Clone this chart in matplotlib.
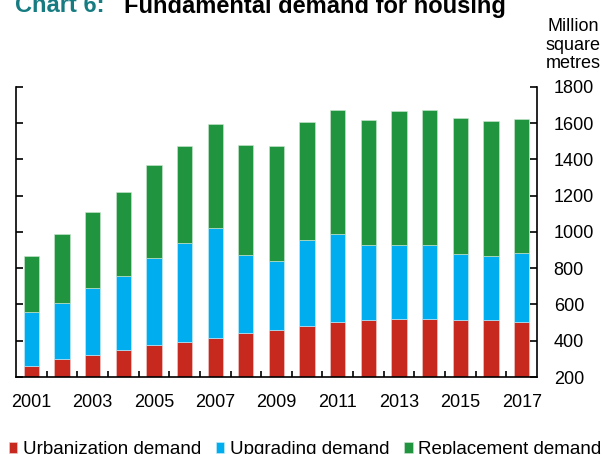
import matplotlib
matplotlib.use("Agg")
import matplotlib.pyplot as plt
import numpy as np

plt.rcParams['font.family'] = ['Liberation Sans', 'DejaVu Sans']

# data (million square metres)
years = list(range(2001, 2018))
urban = [262, 301, 321, 347, 374, 391, 415, 440, 459, 483, 503, 514, 519, 519, 517, 512, 501]
upgrade_top = [558, 609, 690, 756, 859, 938, 1020, 873, 840, 954, 987, 927, 930, 927, 879, 868, 884]
total = [868, 991, 1110, 1218, 1367, 1475, 1598, 1479, 1477, 1607, 1672, 1618, 1666, 1672, 1629, 1615, 1624]

upgrade = [u - r for u, r in zip(upgrade_top, urban)]
replace = [t - u for t, u in zip(total, upgrade_top)]

red = '#c8291f'
blue = '#00aeef'
green = '#21943f'

fig = plt.figure(figsize=(6.03, 4.54), dpi=100)
ax = fig.add_axes([0.0265, 0.1696, 0.864, 0.6388])

x = np.arange(len(years))
w = 0.5
ax.bar(x, urban, w, color=red, edgecolor='#f0d0cc', linewidth=0.4, label='Urbanization demand')
ax.bar(x, upgrade, w, bottom=urban, color=blue, edgecolor='#cceefa', linewidth=0.4, label='Upgrading demand')
ax.bar(x, replace, w, bottom=upgrade_top, color=green, edgecolor='#cde8d3', linewidth=0.4, label='Replacement demand')

ax.set_xlim(-0.5, len(years) - 0.5)
ax.set_ylim(200, 1800)
ax.set_yticks(range(200, 1801, 200))

# labels under every second year, small ticks between the bars
ax.set_xticks(x[::2])
ax.set_xticklabels([str(y) for y in years[::2]])
ax.set_xticks(x[:-1] + 0.5, minor=True)
ax.tick_params(axis='x', which='major', length=0, pad=12, labelsize=13)
ax.tick_params(axis='x', which='minor', direction='in', length=4, width=1.2)

ax.yaxis.tick_right()
ax.tick_params(axis='y', which='major', direction='in', left=True, right=True,
               labelleft=False, labelright=True, length=5, width=1.2, pad=12, labelsize=13)

for s in ['left', 'right', 'bottom']:
    ax.spines[s].set_linewidth(1.2)
ax.spines['top'].set_visible(False)

fig.text(573 / 603, 1 - 45 / 454, 'Million\nsquare\nmetres', ha='center', va='center',
         fontsize=13, linespacing=1.1)

# title, partly cut at the top as in the source
fig.text(15 / 603, 1 - 12.5 / 454, 'Chart 6:', color='#167c82', fontsize=17, fontweight='bold',
         va='baseline')
fig.text(124 / 603, 1 - 12.5 / 454, 'Fundamental demand for housing', color='black', fontsize=17,
         fontweight='bold', va='baseline')

fig.legend(loc='center', bbox_to_anchor=(305 / 603, 1 - 449.5 / 454), ncol=3, frameon=False,
           fontsize=13.5, handlelength=0.45, handleheight=0.5, handletextpad=0.28,
           columnspacing=0.8, borderaxespad=0)

fig.savefig('out.png', dpi=100)
